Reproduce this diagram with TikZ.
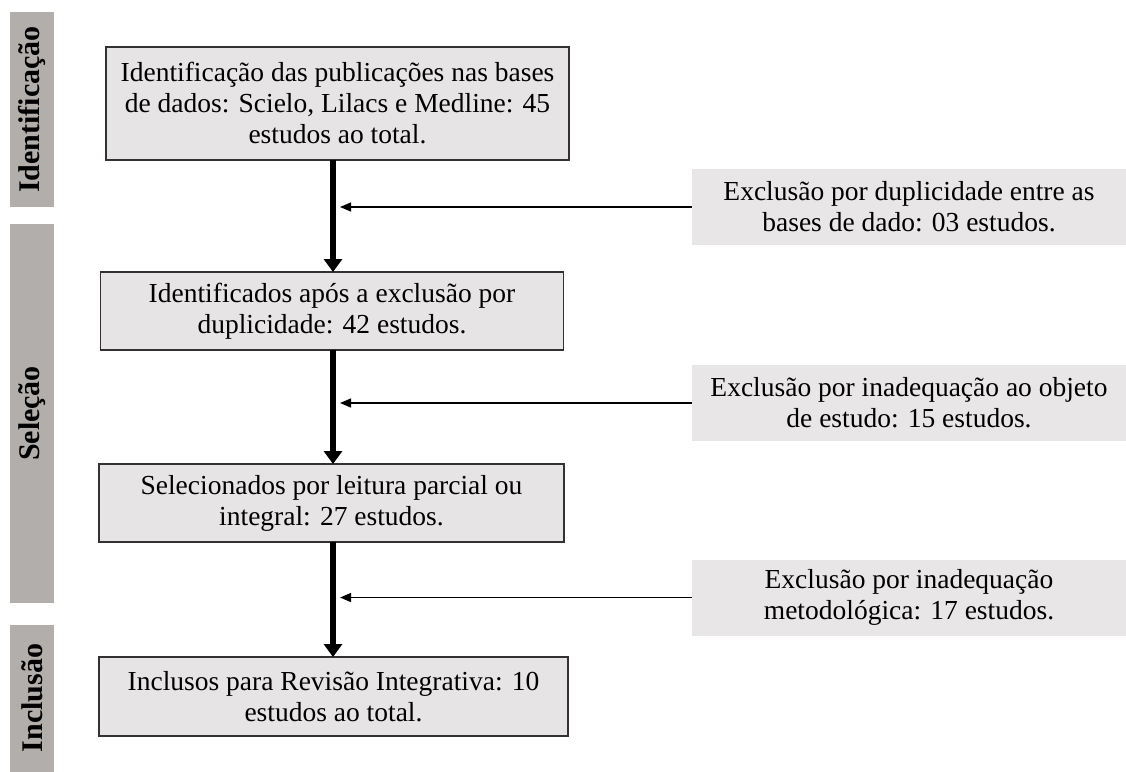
\documentclass[tikz,border=0pt]{standalone}
\usepackage{fontspec}
\setmainfont{Liberation Serif}
\usetikzlibrary{arrows.meta}
\definecolor{boxfill}{RGB}{230,228,228}
\definecolor{sidefill}{RGB}{232,230,230}
\definecolor{barfill}{RGB}{178,174,171}
\definecolor{boxline}{RGB}{50,50,50}
\tikzset{
  mainbox/.style={draw=boxline, line width=1.3pt, fill=boxfill, align=center,
    font=\fontsize{27.5}{31}\selectfont, inner sep=0pt, anchor=center},
  sidebox/.style={fill=sidefill, align=center, font=\fontsize{27.5}{31}\selectfont,
    inner sep=0pt, anchor=center},
  barbox/.style={fill=barfill, inner sep=0pt, anchor=center},
  barlabel/.style={rotate=90, font=\fontsize{30}{34}\selectfont\bfseries, anchor=center},
  flow/.style={line width=5.5pt, -{Triangle[width=18pt,length=13pt]}},
  excl/.style={line width=1.3pt, -{Triangle[width=9pt,length=11pt]}},
}
\begin{document}
\begin{tikzpicture}[x=1pt,y=-1pt]
\useasboundingbox (0,0) rectangle (1126,771);
% stage bars
\node[barbox, minimum width=44pt, minimum height=195pt] (bar1) at (32,109.5) {};
\node[barbox, minimum width=44pt, minimum height=379pt] (bar2) at (32,413.5) {};
\node[barbox, minimum width=44pt, minimum height=150pt] (bar3) at (32,700) {};
\node[barlabel] (lab1) at (bar1.center) {Identificação};
\node[barlabel] (lab2) at (bar2.center) {Seleção};
\node[barlabel] (lab3) at (32,698) {Inclusão};
% main boxes
\node[mainbox, minimum width=463pt, minimum height=113pt] (b1) at (337.5,103.5)
  {Identificação das publicações nas bases\\de dados: Scielo, Lilacs e Medline: 45\\estudos ao total.};
\node[mainbox, minimum width=463pt, minimum height=78pt] (b2) at (332,311)
  {Identificados após a exclusão por\\duplicidade: 42 estudos.};
\node[mainbox, minimum width=465pt, minimum height=78pt] (b3) at (331.5,503)
  {Selecionados por leitura parcial ou\\integral: 27 estudos.};
\node[mainbox, minimum width=469pt, minimum height=79pt] (b4) at (333.5,696.5)
  {Inclusos para Revisão Integrativa: 10\\estudos ao total.};
% exclusion boxes
\node[sidebox, minimum width=434pt, minimum height=76pt] (e1) at (909,207)
  {Exclusão por duplicidade entre as\\bases de dado: 03 estudos.};
\node[sidebox, minimum width=434pt, minimum height=76pt] (e2) at (909,403)
  {Exclusão por inadequação ao objeto\\de estudo: 15 estudos.};
\node[sidebox, minimum width=434pt, minimum height=76pt] (e3) at (909,597.5)
  {Exclusão por inadequação\\metodológica: 17 estudos.};
% flow arrows
\coordinate (s1) at (333,160);
\coordinate (t1) at (333,272);
\coordinate (s2) at (333,350);
\coordinate (t2) at (333,464);
\coordinate (s3) at (333,542);
\coordinate (t3) at (333,657);
\draw[flow] (s1) -- (t1);
\draw[flow] (s2) -- (t2);
\draw[flow] (s3) -- (t3);
% exclusion arrows
\coordinate (x1) at (340,207);
\coordinate (x2) at (340,403);
\coordinate (x3) at (340,597.5);
\draw[excl] (e1.west) -- (x1);
\draw[excl] (e2.west) -- (x2);
\draw[excl] (e3.west) -- (x3);
\end{tikzpicture}
\end{document}
